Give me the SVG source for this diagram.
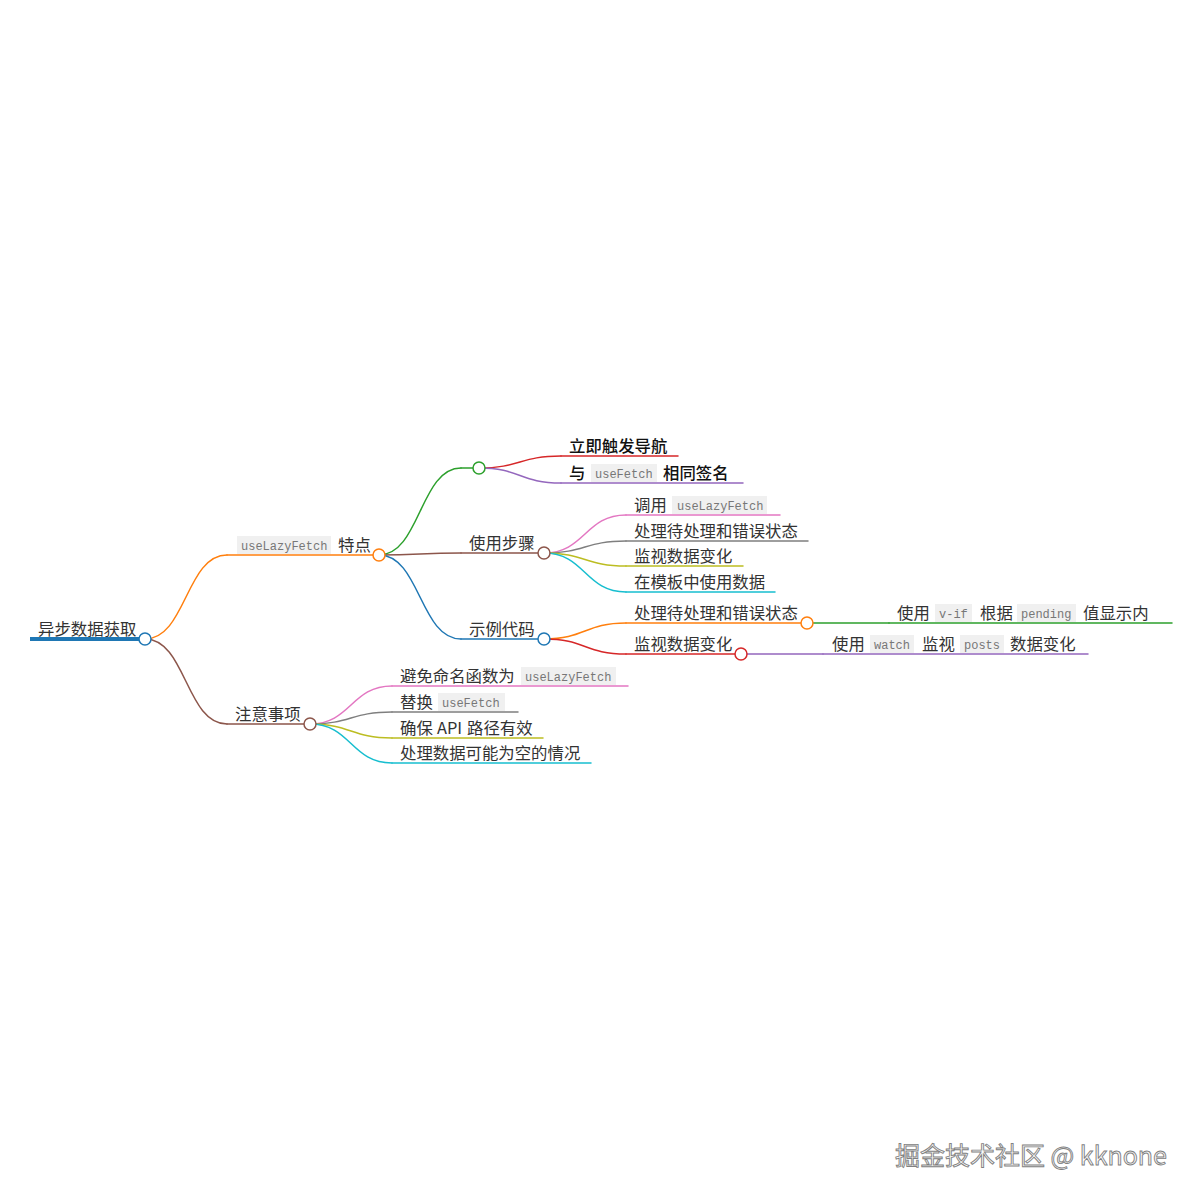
<svg xmlns="http://www.w3.org/2000/svg" width="1200" height="1200" viewBox="0 0 1200 1200">
<style>
.t{font-family:"Noto Sans CJK SC","Noto Sans",sans-serif;font-size:16.4px;fill:#333}
.b{fill:#111;font-weight:500}
.c{font-family:"Liberation Mono","DejaVu Sans Mono",monospace;font-size:12px;fill:#777}
.cb{fill:#f0f0f0}
.l{fill:none;stroke-width:1.5;stroke-linecap:round}
.ci{fill:#fff;stroke-width:1.5}
.wm{font-family:"Noto Sans CJK SC","Noto Sans",sans-serif;font-size:25px;fill:#fafafa;stroke:#808080;stroke-width:0.9}
</style>
<rect width="1200" height="1200" fill="#fff"/>
<g id="connectors">
<path class="l" stroke="#ff7f0e" stroke-width="2" d="M145,639 C186,639 186,555 227,555"/>
<path class="l" stroke="#8c564b" stroke-width="2" d="M145,639 C186,639 186,724 227,724"/>
<path class="l" stroke="#2ca02c" d="M379,555 C420,555 420,468 461,468"/>
<path class="l" stroke="#8c564b" d="M379,555 C420,555 420,553 461,553"/>
<path class="l" stroke="#1f77b4" d="M379,555 C420,555 420,639 461,639"/>
<path class="l" stroke="#d62728" d="M479,468 C520,468 520,456 561,456"/>
<path class="l" stroke="#9467bd" d="M479,468 C520,468 520,483 561,483"/>
<path class="l" stroke="#e377c2" d="M544,553 C585,553 585,515 626,515"/>
<path class="l" stroke="#7f7f7f" d="M544,553 C585,553 585,541 626,541"/>
<path class="l" stroke="#bcbd22" d="M544,553 C585,553 585,566 626,566"/>
<path class="l" stroke="#17becf" d="M544,553 C585,553 585,592 626,592"/>
<path class="l" stroke="#ff7f0e" d="M544,639 C585,639 585,623 626,623"/>
<path class="l" stroke="#d62728" d="M544,639 C585,639 585,654 626,654"/>
<path class="l" stroke="#2ca02c" d="M807,623 L889,623"/>
<path class="l" stroke="#9467bd" d="M741,654 L823,654"/>
<path class="l" stroke="#e377c2" d="M310,724 C351,724 351,686 392,686"/>
<path class="l" stroke="#7f7f7f" d="M310,724 C351,724 351,712 392,712"/>
<path class="l" stroke="#bcbd22" d="M310,724 C351,724 351,738 392,738"/>
<path class="l" stroke="#17becf" d="M310,724 C351,724 351,763 392,763"/>
</g>
<g id="n-root">
<line x1="30" y1="639" x2="145" y2="639" stroke="#1f77b4" stroke-width="4"/>
<text class="t" x="38" y="635">异步数据获取</text>
<circle class="ci" cx="145" cy="639" r="6" stroke="#1f77b4"/>
</g>
<g id="n-a">
<line class="l" x1="227" y1="555" x2="379" y2="555" stroke="#ff7f0e" stroke-width="2"/>
<rect class="cb" x="237" y="536" width="94" height="18"/>
<text class="c" x="241" y="550">useLazyFetch</text>
<text class="t" x="338" y="551">特点</text>
<circle class="ci" cx="379" cy="555" r="6" stroke="#ff7f0e"/>
</g>
<g id="n-a1">
<line class="l" x1="461" y1="468" x2="479" y2="468" stroke="#2ca02c"/>
<circle class="ci" cx="479" cy="468" r="6" stroke="#2ca02c"/>
</g>
<g id="n-a1a">
<line class="l" x1="561" y1="456" x2="678" y2="456" stroke="#d62728"/>
<text class="t b" x="569" y="452">立即触发导航</text>
</g>
<g id="n-a1b">
<line class="l" x1="561" y1="483" x2="743" y2="483" stroke="#9467bd"/>
<text class="t b" x="569" y="479">与</text>
<rect class="cb" x="591" y="464" width="66" height="18"/>
<text class="c" x="595" y="478">useFetch</text>
<text class="t b" x="663" y="479">相同签名</text>
</g>
<g id="n-a2">
<line class="l" x1="461" y1="553" x2="544" y2="553" stroke="#8c564b"/>
<text class="t" x="469" y="549">使用步骤</text>
<circle class="ci" cx="544" cy="553" r="6" stroke="#8c564b"/>
</g>
<g id="n-a2a">
<line class="l" x1="626" y1="515" x2="780" y2="515" stroke="#e377c2"/>
<text class="t" x="634" y="511">调用</text>
<rect class="cb" x="672" y="496" width="95" height="18"/>
<text class="c" x="677" y="510">useLazyFetch</text>
</g>
<g id="n-a2b">
<line class="l" x1="626" y1="541" x2="808" y2="541" stroke="#7f7f7f"/>
<text class="t" x="634" y="537">处理待处理和错误状态</text>
</g>
<g id="n-a2c">
<line class="l" x1="626" y1="566" x2="743" y2="566" stroke="#bcbd22"/>
<text class="t" x="634" y="562">监视数据变化</text>
</g>
<g id="n-a2d">
<line class="l" x1="626" y1="592" x2="775" y2="592" stroke="#17becf"/>
<text class="t" x="634" y="588">在模板中使用数据</text>
</g>
<g id="n-a3">
<line class="l" x1="461" y1="639" x2="544" y2="639" stroke="#1f77b4"/>
<text class="t" x="469" y="635">示例代码</text>
<circle class="ci" cx="544" cy="639" r="6" stroke="#1f77b4"/>
</g>
<g id="n-a3a">
<line class="l" x1="626" y1="623" x2="807" y2="623" stroke="#ff7f0e"/>
<text class="t" x="634" y="619">处理待处理和错误状态</text>
<circle class="ci" cx="807" cy="623" r="6" stroke="#ff7f0e"/>
</g>
<g id="n-a3a1">
<line class="l" x1="889" y1="623" x2="1172" y2="623" stroke="#2ca02c"/>
<text class="t" x="897" y="619">使用</text>
<rect class="cb" x="935" y="604" width="37" height="18"/>
<text class="c" x="939" y="618">v-if</text>
<text class="t" x="980" y="619">根据</text>
<rect class="cb" x="1017" y="604" width="59" height="18"/>
<text class="c" x="1021" y="618">pending</text>
<text class="t" x="1083" y="619">值显示内</text>
</g>
<g id="n-a3b">
<line class="l" x1="626" y1="654" x2="741" y2="654" stroke="#d62728"/>
<text class="t" x="634" y="650">监视数据变化</text>
<circle class="ci" cx="741" cy="654" r="6" stroke="#d62728"/>
</g>
<g id="n-a3b1">
<line class="l" x1="823" y1="654" x2="1088" y2="654" stroke="#9467bd"/>
<text class="t" x="832" y="650">使用</text>
<rect class="cb" x="870" y="635" width="44" height="18"/>
<text class="c" x="874" y="649">watch</text>
<text class="t" x="922" y="650">监视</text>
<rect class="cb" x="960" y="635" width="44" height="18"/>
<text class="c" x="964" y="649">posts</text>
<text class="t" x="1010" y="650">数据变化</text>
</g>
<g id="n-b">
<line class="l" x1="227" y1="724" x2="310" y2="724" stroke="#8c564b" stroke-width="2"/>
<text class="t" x="235" y="720">注意事项</text>
<circle class="ci" cx="310" cy="724" r="6" stroke="#8c564b"/>
</g>
<g id="n-b1">
<line class="l" x1="392" y1="686" x2="628" y2="686" stroke="#e377c2"/>
<text class="t" x="400" y="682">避免命名函数为</text>
<rect class="cb" x="521" y="667" width="95" height="18"/>
<text class="c" x="525" y="681">useLazyFetch</text>
</g>
<g id="n-b2">
<line class="l" x1="392" y1="712" x2="518" y2="712" stroke="#7f7f7f"/>
<text class="t" x="400" y="708">替换</text>
<rect class="cb" x="438" y="693" width="67" height="18"/>
<text class="c" x="442" y="707">useFetch</text>
</g>
<g id="n-b3">
<line class="l" x1="392" y1="738" x2="543" y2="738" stroke="#bcbd22"/>
<text class="t" x="400" y="734">确保</text>
<text class="t" x="437" y="734">API</text>
<text class="t" x="467" y="734">路径有效</text>
</g>
<g id="n-b4">
<line class="l" x1="392" y1="763" x2="591" y2="763" stroke="#17becf"/>
<text class="t" x="400" y="759">处理数据可能为空的情况</text>
</g>
<text class="wm" x="895" y="1165">掘金技术社区 @ kknone</text>
</svg>
